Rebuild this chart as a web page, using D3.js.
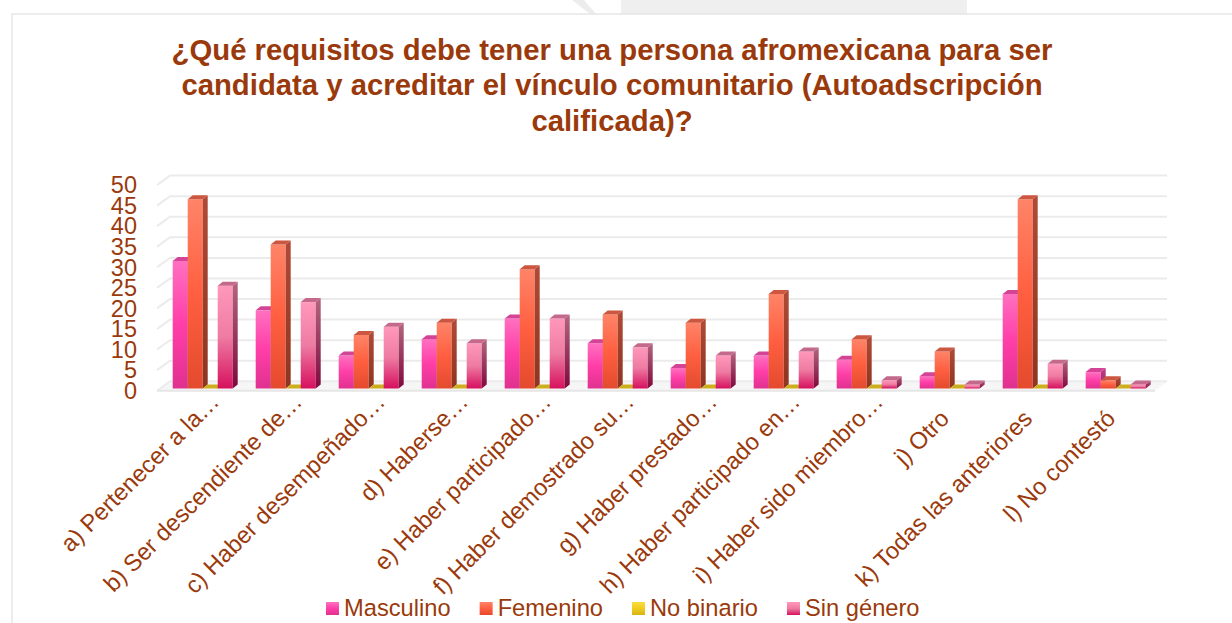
<!DOCTYPE html>
<html>
<head>
<meta charset="utf-8">
<script src="https://cdn.jsdelivr.net/npm/d3@7"></script>
<style>
  body { margin: 0; background: #fff; }
  text { font-family: "Liberation Sans", Arial, sans-serif; fill: #9a3a0c; }
</style>
</head>
<body>
<script>
var categories = ["a) Pertenecer a la…", "b) Ser descendiente de…", "c) Haber desempeñado…", "d) Haberse…",
	"e) Haber participado…", "f) Haber demostrado su…", "g) Haber prestado…", "h) Haber participado en…",
	"i) Haber sido miembro…", "j) Otro", "k) Todas las anteriores", "l) No contestó"];
var seriesNames = ["Masculino", "Femenino", "No binario", "Sin género"];
var masculino = [31, 19, 8, 12, 17, 11, 5, 8, 7, 3, 23, 4];
var femenino = [46, 35, 13, 16, 29, 18, 16, 23, 12, 9, 46, 2];
var noBinario = [0, 0, 0, 0, 0, 0, 0, 0, 0, 0, 0, 0];
var sinGenero = [25, 21, 15, 11, 17, 10, 8, 9, 2, 1, 6, 1];
var yTicks = [0, 5, 10, 15, 20, 25, 30, 35, 40, 45, 50];
var titleLines = ["¿Qué requisitos debe tener una persona afromexicana para ser",
	"candidata y acreditar el vínculo comunitario (Autoadscripción",
	"calificada)?"];

var allSeries = [masculino, femenino, noBinario, sinGenero];

// colours for each series: front gradient, side, top
var looks = [
	{front: ["#ff70c0", "#ff3ea8", "#e0318f"], side: ["#c23a82", "#a02470"], top: "#d44496"},
	{front: ["#ff8468", "#ff5f40", "#e44a2e"], side: ["#b04a36", "#8e3420"], top: "#cc5640"},
	{front: ["#f8dc40", "#f0cc20", "#d8b414"], side: ["#b09010", "#907408"], top: "#cdae1e"},
	{front: ["#ff98bb", "#ee7ba2", "#d6105e"], side: ["#b2667f", "#80083e"], top: "#c4688c"}
];

var width = 1232, height = 623;
var svg = d3.select("body").append("svg")
	.attr("width", width)
	.attr("height", height);

var defs = svg.append("defs");
looks.forEach(function (l, i) {
	var g = defs.append("linearGradient").attr("id", "front" + i)
		.attr("x1", 0).attr("y1", 0).attr("x2", 0).attr("y2", 1);
	g.append("stop").attr("offset", "0%").attr("stop-color", l.front[0]);
	g.append("stop").attr("offset", "50%").attr("stop-color", l.front[1]);
	g.append("stop").attr("offset", "100%").attr("stop-color", l.front[2]);
	var s = defs.append("linearGradient").attr("id", "side" + i)
		.attr("x1", 0).attr("y1", 0).attr("x2", 0).attr("y2", 1);
	s.append("stop").attr("offset", "0%").attr("stop-color", l.side[0]);
	s.append("stop").attr("offset", "100%").attr("stop-color", l.side[1]);
});

// faint background watermark above the chart panel
svg.append("rect").attr("x", 621).attr("y", 0).attr("width", 346).attr("height", 14).style("fill", "#efefef");
svg.append("path").attr("d", "M572,0 L584,0 L596,14 L590,14 Z").style("fill", "#ececec");

// chart panel
svg.append("rect")
	.attr("x", 12).attr("y", 14)
	.attr("width", width).attr("height", height)
	.style("fill", "#fff")
	.style("stroke", "#e6e6e6")
	.style("stroke-width", 1.5);

// title
svg.append("g").selectAll("text")
	.data(titleLines)
	.enter()
	.append("text")
	.attr("x", 612)
	.attr("y", function (d, i) { return 59.5 + i * 35.8; })
	.style("text-anchor", "middle")
	.style("font-size", "29.3px")
	.style("font-weight", "bold")
	.text(function (d) { return d; });

// scales
var y = d3.scaleLinear().domain([0, 50]).range([388.5, 182.8]);
var x = d3.scaleBand().domain(categories).range([161.2, 1157.2]).paddingInner(0.277).paddingOuter(0.1386);
var xs = d3.scaleBand().domain(seriesNames).range([0, x.bandwidth()]);

var depthX = 13, depthY = 9.4;   // floor / wall depth
var barDX = 5, barDY = 4;        // bar depth

// floor
var left = 157, right = 1155;
svg.append("path")
	.attr("d", "M" + left + "," + (y(0) + 2.2) + " L" + (left + depthX) + "," + (y(0) + 2.2 - depthY) +
		" L" + (right + depthX) + "," + (y(0) + 2.2 - depthY) + " L" + right + "," + (y(0) + 2.2) + " Z")
	.style("fill", "#f6f6f6");

// gridlines on the back wall with short diagonal on the side wall
svg.append("g").selectAll("path")
	.data(yTicks)
	.enter()
	.append("path")
	.attr("d", function (d) {
		var y0 = y(d) + 2.2;
		return "M" + left + "," + y0 + " L" + (left + depthX) + "," + (y0 - depthY) + " L" + (right + depthX - 1) + "," + (y0 - depthY);
	})
	.style("fill", "none")
	.style("stroke", "#ebebeb")
	.style("stroke-width", 2);

svg.append("line")
	.attr("x1", left).attr("x2", right)
	.attr("y1", y(0) + 2.2).attr("y2", y(0) + 2.2)
	.style("stroke", "#e6e6e6")
	.style("stroke-width", 2);

// y axis labels
svg.append("g").selectAll("text")
	.data(yTicks)
	.enter()
	.append("text")
	.attr("x", 137)
	.attr("y", function (d) { return y(d) + 10.5; })
	.style("text-anchor", "end")
	.style("font-size", "23.5px")
	.text(function (d) { return d; });

// bars
var groups = svg.append("g").selectAll("g")
	.data(categories)
	.enter()
	.append("g")
	.attr("transform", function (d) { return "translate(" + x(d) + ",0)"; });

groups.each(function (cat, ci) {
	var g = d3.select(this);
	seriesNames.forEach(function (name, si) {
		var v = allSeries[si][ci];
		var bx = xs(name), bw = xs.bandwidth();
		var top = y(v), base = y(0);
		if (v > 0) {
			g.append("rect")
				.attr("x", bx).attr("y", top)
				.attr("width", bw).attr("height", base - top)
				.style("fill", "url(#front" + si + ")");
			g.append("path")
				.attr("d", "M" + (bx + bw) + "," + top + " L" + (bx + bw + barDX) + "," + (top - barDY) +
					" L" + (bx + bw + barDX) + "," + (base - barDY) + " L" + (bx + bw) + "," + base + " Z")
				.style("fill", "url(#side" + si + ")");
		}
		g.append("path")
			.attr("d", "M" + bx + "," + top + " L" + (bx + barDX) + "," + (top - barDY) +
				" L" + (bx + bw + barDX) + "," + (top - barDY) + " L" + (bx + bw) + "," + top + " Z")
			.style("fill", looks[si].top);
	});
});

// x axis labels, rotated; the ellipsis runs past the tick
svg.append("g").selectAll("text")
	.data(categories)
	.enter()
	.append("text")
	.attr("transform", function (d) { return "translate(" + (x(d) + x.bandwidth() / 2 + 1) + ",420) rotate(-45)"; })
	.attr("dx", function (d) { return d.slice(-1) === "…" ? "1em" : 0; })
	.style("text-anchor", "end")
	.style("font-size", "23.7px")
	.text(function (d) { return d; });

// legend
var legend = svg.append("g").attr("transform", "translate(326,602)");
var lx = 0;
seriesNames.forEach(function (name, i) {
	var item = legend.append("g").attr("transform", "translate(" + lx + ",0)");
	item.append("rect").attr("width", 13).attr("height", 13).style("fill", "url(#front" + i + ")");
	var t = item.append("text").attr("x", 18).attr("y", 14).style("font-size", "23.7px").text(name);
	lx += 18 + t.node().getComputedTextLength() + 29;
});
</script>
</body>
</html>
